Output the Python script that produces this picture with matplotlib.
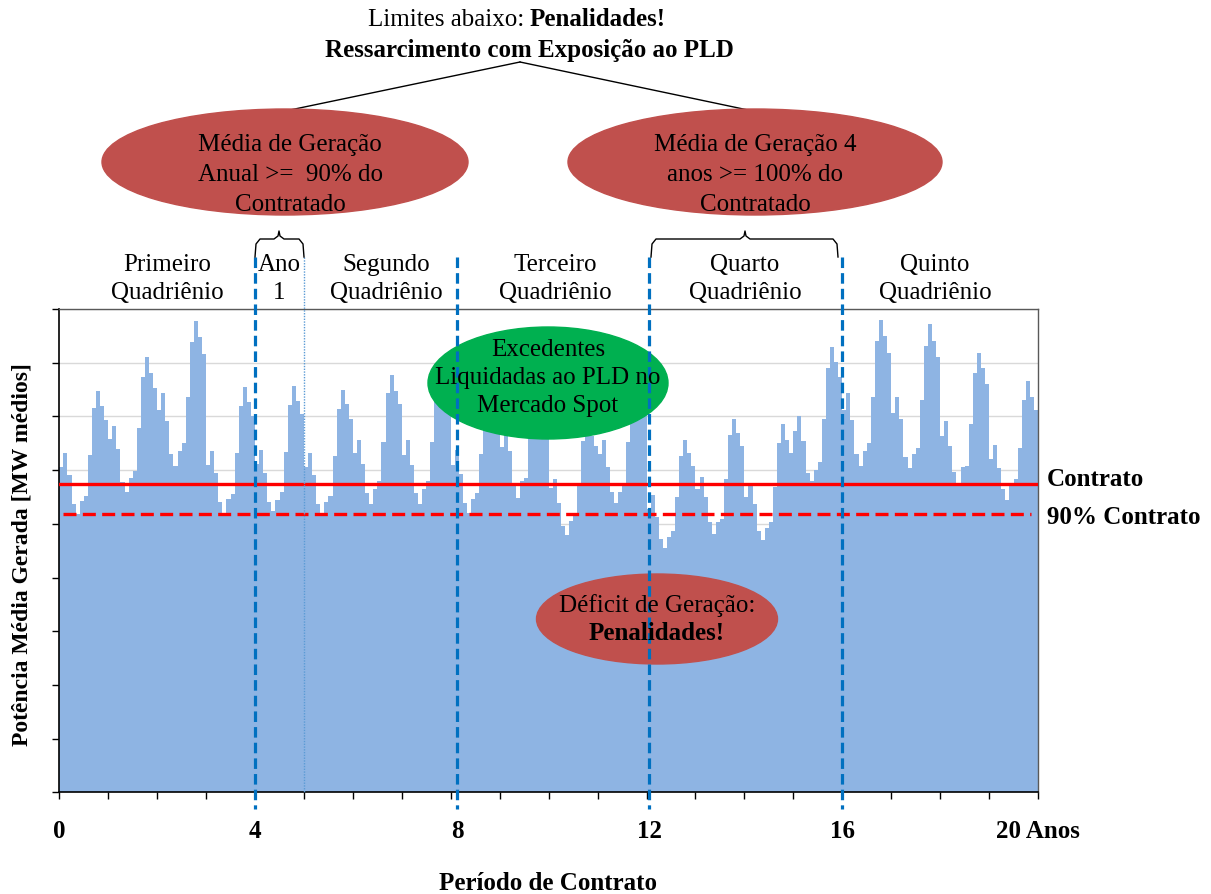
import numpy as np
import matplotlib.pyplot as plt
from matplotlib.patches import Ellipse
from matplotlib.lines import Line2D
import matplotlib.transforms as mtransforms

plt.rcParams['font.family'] = ['Liberation Serif', 'DejaVu Serif']

W, H = 1211, 895

# geracao media mensal, um ano por lista (12 meses)
ano00 = [60.5, 63.2, 59.0, 53.7, 51.8, 54.2, 55.2, 62.8, 71.5, 74.8, 72.0, 69.4]
ano01 = [65.7, 68.3, 64.0, 57.8, 56.0, 58.5, 59.9, 67.8, 77.4, 81.0, 78.0, 75.2]
ano02 = [71.2, 74.3, 69.2, 63.0, 60.8, 63.6, 65.0, 73.7, 83.9, 87.8, 84.7, 81.6]
ano03 = [61.0, 63.6, 59.5, 54.0, 52.1, 54.6, 55.5, 63.2, 71.9, 75.4, 72.7, 70.1]
ano04 = [61.1, 63.8, 59.5, 54.1, 52.3, 54.5, 55.9, 63.4, 72.1, 75.6, 72.9, 70.4]
ano05 = [60.5, 63.1, 59.0, 53.7, 52.0, 54.1, 55.2, 62.7, 71.4, 74.9, 72.3, 69.6]
ano06 = [63.1, 65.6, 61.1, 55.7, 53.7, 56.4, 57.9, 65.3, 74.3, 77.8, 74.7, 72.4]
ano07 = [62.9, 65.6, 61.0, 55.7, 53.7, 56.4, 57.9, 65.3, 74.5, 78.0, 75.0, 72.5]
ano08 = [61.0, 63.7, 59.3, 53.9, 52.1, 54.6, 55.8, 63.0, 71.5, 75.0, 72.0, 69.5]
ano09 = [64.3, 66.9, 63.5, 57.3, 54.8, 57.9, 58.5, 66.5, 75.5, 79.0, 76.0, 73.0]
ano10 = [56.6, 58.3, 53.9, 49.6, 47.9, 50.5, 51.6, 57.4, 65.5, 68.0, 66.4, 64.4]
ano11 = [63.0, 65.6, 60.5, 56.0, 53.9, 56.0, 57.4, 65.2, 73.0, 77.0, 74.0, 71.5]
ano12 = [52.8, 55.4, 51.2, 47.2, 45.5, 47.5, 48.6, 55.0, 62.7, 65.6, 63.1, 60.8]
ano13 = [56.5, 58.8, 55.0, 50.3, 48.1, 50.3, 50.9, 58.3, 66.5, 69.6, 67.0, 64.5]
ano14 = [55.0, 57.2, 53.7, 48.7, 47.0, 49.2, 50.3, 56.9, 65.0, 68.6, 65.6, 63.1]
ano15 = [67.2, 70.1, 65.5, 59.4, 57.9, 60.1, 61.5, 69.6, 79.1, 83.0, 80.2, 77.3]
ano16 = [71.2, 74.3, 69.4, 63.0, 60.7, 63.6, 65.0, 73.7, 84.1, 88.0, 84.9, 81.8]
ano17 = [70.6, 73.6, 69.5, 62.4, 60.3, 63.0, 64.2, 73.1, 83.2, 87.2, 84.1, 81.0]
ano18 = [66.4, 69.2, 64.5, 59.6, 57.4, 60.5, 60.8, 68.5, 78.0, 81.8, 79.1, 76.0]
ano19 = [62.1, 64.7, 60.3, 56.5, 54.5, 57.1, 58.3, 64.2, 73.1, 76.5, 73.6, 71.2]

geracao = (ano00 + ano01 + ano02 + ano03 + ano04 + ano05 + ano06 + ano07 + ano08 + ano09 +
           ano10 + ano11 + ano12 + ano13 + ano14 + ano15 + ano16 + ano17 + ano18 + ano19)

contrato = 57.5
contrato90 = 0.9 * contrato

# limites dos quadrienios (anos) e rotulos do eixo
divisoes = [4, 8.13, 12.06, 16]
rotulos_x = ['0', '4', '8', '12', '16', '20 Anos']
pos_rotulos = [0, 4, 8.13, 12.06, 16, 20]
quadrienios = ['Primeiro\nQuadriênio', 'Ano\n1', 'Segundo\nQuadriênio',
               'Terceiro\nQuadriênio', 'Quarto\nQuadriênio', 'Quinto\nQuadriênio']
pos_quad = [167, 279, 386, 555, 745, 935]


def px(x, y):
    return x / W, 1 - y / H


fig = plt.figure(figsize=(W / 100, H / 100), dpi=100)
L, R, T, B = 59.3, 1038, 310, 793.3
ax = fig.add_axes([L / W, 1 - B / H, (R - L) / W, (B - T) / H])

meses = np.arange(len(geracao)) / 12 + 1 / 24
ax.bar(meses, geracao, width=1 / 12, color='#8EB4E3', linewidth=0, zorder=2)
ax.set_xlim(0, 20)
ax.set_ylim(0, 90)
ax.set_xticks(range(0, 21))
ax.set_yticks(range(0, 91, 10))
ax.tick_params(labelleft=False, labelbottom=False, direction='out', length=5, width=1)
ax.yaxis.grid(True, color='#D9D9D9', lw=1)
ax.set_axisbelow(True)
for s in ['left', 'bottom']:
    ax.spines[s].set_color('black')
    ax.spines[s].set_linewidth(1.2)
for s in ['top', 'right']:
    ax.spines[s].set_color('#595959')
    ax.spines[s].set_linewidth(1)

ax.axhline(contrato, color='red', lw=2.4, zorder=4)
ax.plot([0.08, 19.85], [contrato90, contrato90], color='red', lw=2.4,
        linestyle=(0, (3.9, 1.9)), zorder=4)

fig.text(*px(22, 555), 'Potência Média Gerada [MW médios]', rotation=90,
         ha='center', va='center', fontsize=17, fontweight='bold')

trans = mtransforms.blended_transform_factory(ax.transData, fig.transFigure)
for xd in divisoes:
    ax.plot([xd, xd], [1 - 258 / H, 1 - 810 / H], transform=trans, clip_on=False,
            color='#0070C0', lw=2.3, linestyle=(0, (3.3, 1.6)), zorder=6)
ax.plot([5, 5], [1 - 258 / H, 1 - 793 / H], transform=trans, clip_on=False,
        color='#5B9BD5', lw=1, linestyle=(0, (1, 1)), zorder=6)

for lab, xd in zip(rotulos_x, pos_rotulos):
    ax.text(xd, 1 - 832 / H, lab, transform=trans, ha='center', va='center',
            fontsize=18, fontweight='bold')

fig.text(*px(548, 884), 'Período de Contrato', ha='center', va='center',
         fontsize=18, fontweight='bold')
fig.text(*px(1047, 479), 'Contrato', ha='left', va='center', fontsize=18, fontweight='bold')
fig.text(*px(1047, 517), '90% Contrato', ha='left', va='center', fontsize=18, fontweight='bold')

# titulo
fig.text(*px(530, 20), 'Limites abaixo: ', ha='right', va='center', fontsize=18)
fig.text(*px(530, 20), 'Penalidades!', ha='left', va='center', fontsize=18, fontweight='bold')
fig.text(*px(529, 50), 'Ressarcimento com Exposição ao PLD', ha='center', va='center',
         fontsize=18, fontweight='bold')
for xe in [290, 748]:
    fig.add_artist(Line2D([520 / W, xe / W], [1 - 63 / H, 1 - 111 / H], color='black', lw=1))

# quadrienios
for lab, xp in zip(quadrienios, pos_quad):
    fig.text(*px(xp, 279), lab, ha='center', va='center', fontsize=18, linespacing=1.35)


def elipse(cx, cy, w, h, cor, no_eixo=False):
    e = Ellipse(px(cx, cy), w / W, h / H, facecolor=cor, edgecolor=cor, lw=1,
                transform=fig.transFigure, zorder=5)
    if no_eixo:
        e.set_clip_on(False)
        ax.add_patch(e)
    else:
        fig.add_artist(e)


elipse(285, 163, 366, 106, '#C0504D')
elipse(755, 163, 374, 106, '#C0504D')
elipse(548, 384, 240, 112, '#00B050', no_eixo=True)
elipse(657, 620, 241, 90, '#C0504D', no_eixo=True)

fig.text(*px(290, 175), 'Média de Geração\nAnual >=  90% do\nContratado', ha='center',
         va='center', fontsize=18, linespacing=1.45, zorder=8)
fig.text(*px(755, 175), 'Média de Geração 4\nanos >= 100% do\nContratado', ha='center',
         va='center', fontsize=18, linespacing=1.45, zorder=8)
fig.text(*px(548, 378), 'Excedentes\nLiquidadas ao PLD no\nMercado Spot', ha='center',
         va='center', fontsize=18, linespacing=1.33, zorder=8)
fig.text(*px(657, 606), 'Déficit de Geração:', ha='center', va='center', fontsize=18, zorder=8)
fig.text(*px(657, 634), 'Penalidades!', ha='center', va='center', fontsize=18,
         fontweight='bold', zorder=8)


def chave(x0, x1, xm):
    xs = [x0, x0 + 1, x0 + 5, xm - 5, xm - 1, xm, xm + 1, xm + 5, x1 - 5, x1 - 1, x1]
    ys = [258, 245, 240, 240, 237, 232, 237, 240, 240, 245, 258]
    fig.add_artist(Line2D([x / W for x in xs], [1 - y / H for y in ys], color='black', lw=1))


chave(255, 304, 279)
chave(651, 838, 745)

fig.savefig('out.png', dpi=100)
